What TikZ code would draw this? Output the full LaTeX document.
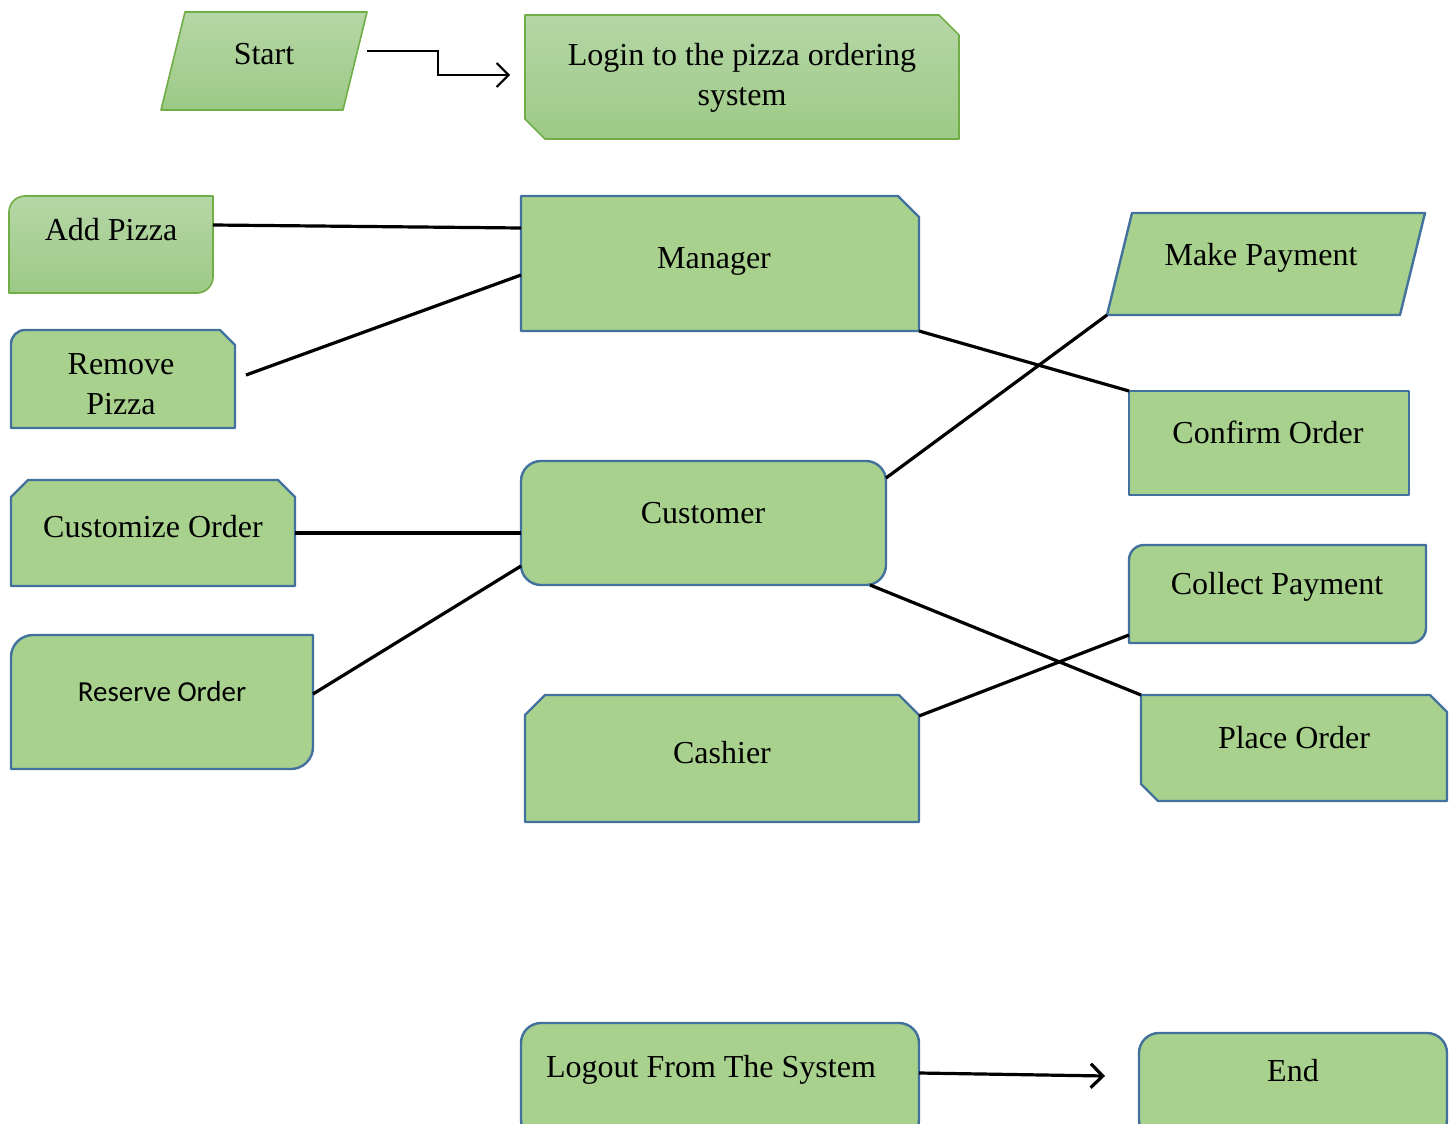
\documentclass[tikz,border=0pt]{standalone}
\usepackage{fontspec}
\setmainfont{Liberation Serif}
\newfontfamily\calfont{Carlito}
\usetikzlibrary{fit,calc,arrows.meta}
\definecolor{gfill}{HTML}{A9D18E}
\definecolor{bline}{HTML}{41719C}
\definecolor{gline}{HTML}{70AD47}
\definecolor{gtop}{HTML}{B5D6A6}
\definecolor{gbot}{HTML}{9DCA86}
\begin{document}
\begin{tikzpicture}[x=0.5pt,y=-0.5pt,
  box/.style={inner sep=0pt, outer sep=0pt},
  bshape/.style={fill=gfill, draw=bline, line width=1.2pt, line join=round},
  gshape/.style={top color=gtop, bottom color=gbot, draw=gline, line width=0.8pt, line join=round},
  lbl/.style={font=\fontsize{16}{20}\selectfont, align=center, inner sep=0pt, anchor=base},
  conn/.style={line width=1.6pt, black},
  arr/.style={conn, -{Straight Barb[length=6pt,width=12pt]}}]
\useasboundingbox (0,0) rectangle (1452,1124);
\clip (0,0) rectangle (1452,1124);
% shape frames
\node[box, fit={(161,12) (367,110)}] (start) {};
\node[box, fit={(525,15) (959,139)}] (login) {};
\node[box, fit={(9,196) (213,293)}] (add) {};
\node[box, fit={(11,330) (235,428)}] (rem) {};
\node[box, fit={(521,196) (919,331)}] (mgr) {};
\node[box, fit={(1107,213) (1425,315)}] (pay) {};
\node[box, fit={(1129,391) (1409,495)}] (conf) {};
\node[box, fit={(11,480) (295,586)}] (cust) {};
\node[box, fit={(521,461) (886,585)}] (cus) {};
\node[box, fit={(11,635) (313,769)}] (res) {};
\node[box, fit={(525,695) (919,822)}] (cash) {};
\node[box, fit={(1129,545) (1426,643)}] (coll) {};
\node[box, fit={(1141,695) (1447,801)}] (place) {};
\node[box, fit={(521,1023) (919,1140)}] (logout) {};
\node[box, fit={(1139,1033) (1447,1140)}] (endn) {};
% outlines
\path[gshape] ([xshift=12pt]start.north west) -- (start.north east) -- ([xshift=-12pt]start.south east) -- (start.south west) -- cycle;
\path[gshape] (login.north west) -- ([xshift=-10pt]login.north east) -- ([yshift=-10pt]login.north east) -- (login.south east) -- ([xshift=10pt]login.south west) -- ([yshift=10pt]login.south west) -- cycle;
\path[gshape] ([yshift=-8pt]add.north west) arc[start angle=180,end angle=90,radius=8pt] -- (add.north east) -- ([yshift=8pt]add.south east) arc[start angle=0,end angle=-90,radius=8pt] -- (add.south west) -- cycle;
\path[bshape] ([yshift=-7pt]rem.north west) arc[start angle=180,end angle=90,radius=7pt] -- ([xshift=-7.5pt]rem.north east) -- ([yshift=-7.5pt]rem.north east) -- (rem.south east) -- (rem.south west) -- cycle;
\path[bshape] (mgr.north west) -- ([xshift=-10.5pt]mgr.north east) -- ([yshift=-10.5pt]mgr.north east) -- (mgr.south east) -- (mgr.south west) -- cycle;
\path[bshape] ([xshift=12.5pt]pay.north west) -- (pay.north east) -- ([xshift=-12.5pt]pay.south east) -- (pay.south west) -- cycle;
\path[bshape] (conf.north west) rectangle (conf.south east);
\path[bshape] ([yshift=-8.5pt]cust.north west) -- ([xshift=8.5pt]cust.north west) -- ([xshift=-8.5pt]cust.north east) -- ([yshift=-8.5pt]cust.north east) -- (cust.south east) -- (cust.south west) -- cycle;
\path[bshape, rounded corners=10pt] (cus.north west) rectangle (cus.south east);
\path[bshape] ([yshift=-11pt]res.north west) arc[start angle=180,end angle=90,radius=11pt] -- (res.north east) -- ([yshift=11pt]res.south east) arc[start angle=0,end angle=-90,radius=11pt] -- (res.south west) -- cycle;
\path[bshape] ([yshift=-10pt]cash.north west) -- ([xshift=10pt]cash.north west) -- ([xshift=-10pt]cash.north east) -- ([yshift=-10pt]cash.north east) -- (cash.south east) -- (cash.south west) -- cycle;
\path[bshape] ([yshift=-7.5pt]coll.north west) arc[start angle=180,end angle=90,radius=7.5pt] -- (coll.north east) -- ([yshift=7.5pt]coll.south east) arc[start angle=0,end angle=-90,radius=7.5pt] -- (coll.south west) -- cycle;
\path[bshape] (place.north west) -- ([xshift=-8.5pt]place.north east) -- ([yshift=-8.5pt]place.north east) -- (place.south east) -- ([xshift=8.5pt]place.south west) -- ([yshift=8.5pt]place.south west) -- cycle;
\path[bshape, rounded corners=10pt] (logout.north west) rectangle (logout.south east);
\path[bshape, rounded corners=10pt] (endn.north west) rectangle (endn.south east);
% labels
\node[lbl] (start-t) at (264,64) {Start};
\node[lbl, anchor=center] (login-t) at (742,78) {Login to the pizza ordering\\system};
\node[lbl] (add-t) at (111,240) {Add Pizza};
\node[lbl, anchor=center] (rem-t) at (121,384) {Remove\\Pizza};
\node[lbl] (mgr-t) at (714,268) {Manager};
\node[lbl] (pay-t) at (1261,265) {Make Payment};
\node[lbl] (conf-t) at (1268,443) {Confirm Order};
\node[lbl] (cus-t) at (703,523) {Customer};
\node[lbl] (cust-t) at (153,537) {Customize Order};
\node[lbl, font=\calfont\fontsize{14.5}{17}\selectfont] (res-t) at (162,701) {Reserve Order};
\node[lbl] (cash-t) at (722,763) {Cashier};
\node[lbl] (coll-t) at (1277,594) {Collect Payment};
\node[lbl] (place-t) at (1294,748) {Place Order};
\node[lbl] (logout-t) at (711,1077) {Logout From The System};
\node[lbl] (endn-t) at (1293,1081) {End};
% connectors
\draw[arr, line width=1pt] ($(start.east)+(0,-10)$) -- ++(71,0) |- ($(login.west)+(-15,-2)$);
\draw[conn] ($(add.east)+(0,-19.5)$) -- ($(mgr.west)+(0,-35.5)$);
\draw[conn] ($(rem.east)+(11,-4)$) -- ($(mgr.west)+(0,11.5)$);
\draw[conn] (mgr.south east) -- (conf.north west);
\draw[conn] (cust.east) -- ($(cus.west)+(0,10)$);
\draw[conn] ($(res.east)+(0,-8)$) -- ($(cus.west)+(0,43)$);
\draw[conn] ($(cus.east)+(0,-45)$) -- (pay.south west);
\draw[conn] ($(cus.south east)+(-16,0)$) -- (place.north west);
\draw[conn] ($(cash.east)+(0,-42.5)$) -- ($(coll.south west)+(0,-8)$);
\draw[arr] ($(logout.east)+(0,-8.5)$) -- ($(endn.west)+(-34,-10.5)$);
\end{tikzpicture}
\end{document}
